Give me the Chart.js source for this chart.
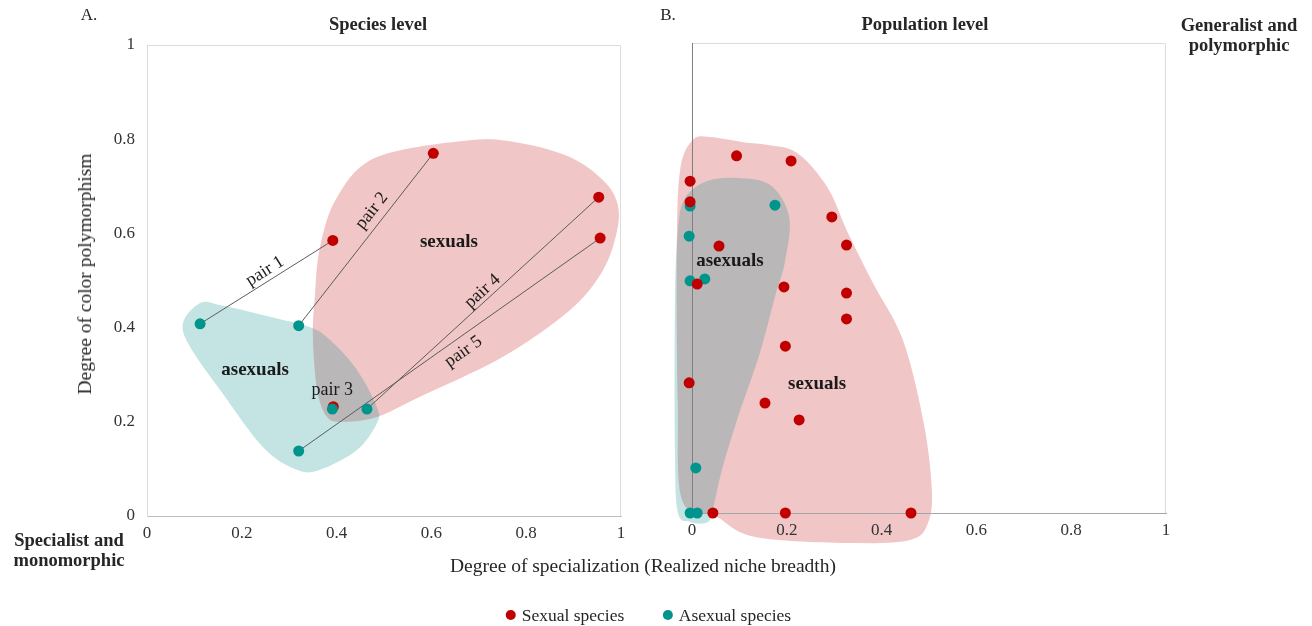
<!DOCTYPE html>
<html>
<head>
<meta charset="utf-8">
<script src="https://cdn.jsdelivr.net/npm/chart.js@4.4.1/dist/chart.umd.min.js"></script>
<style>
body { margin: 0; background: #fff; }
#wrap { position: relative; width: 1312px; height: 626px; overflow: hidden; font-family: "Liberation Serif", serif; color: #262626; }
canvas { position: absolute; top: 0; }
.t { position: absolute; white-space: nowrap; font-size: 17px; line-height: 20px; transform: translate(-50%, -50%); text-align: center; }
.b { font-weight: bold; font-size: 18.5px; }
.ax { font-size: 19.5px; }
.lg { font-size: 17.5px; }
.dot { display: inline-block; width: 10px; height: 10px; border-radius: 50%; margin-right: 6px; vertical-align: 1px; }
</style>
</head>
<body>
<div id="wrap">
  <canvas id="chartA" width="650" height="626" style="left:0"></canvas>
  <canvas id="chartB" width="662" height="626" style="left:650px"></canvas>

  <div class="t" style="left:89px;top:15px">A.</div>
  <div class="t b" style="left:378px;top:24px">Species level</div>
  <div class="t" style="left:668px;top:15px">B.</div>
  <div class="t b" style="left:925px;top:24px">Population level</div>
  <div class="t b" style="left:1239px;top:35px">Generalist and<br>polymorphic</div>
  <div class="t b" style="left:69px;top:550px">Specialist and<br>monomorphic</div>
  <div class="t ax" style="left:643px;top:566px">Degree of specialization (Realized niche breadth)</div>
  <div class="t ax" style="left:85px;top:274px;transform:translate(-50%,-50%) rotate(-90deg)">Degree of color polymorphism</div>
  <div class="t lg" style="left:565px;top:615px"><span class="dot" style="background:#c00000"></span>Sexual species</div>
  <div class="t lg" style="left:727px;top:615px"><span class="dot" style="background:#00958c"></span>Asexual species</div>
</div>

<script>
// Tick labels shared by both panels
const tickValues = [0, 0.2, 0.4, 0.6, 0.8, 1];
const tickLabels = ['0', '0.2', '0.4', '0.6', '0.8', '1'];

// A. Species level - five sexual / asexual pairs
const pairNames = ['pair 1', 'pair 2', 'pair 3', 'pair 4', 'pair 5'];
const speciesSexualX = [0.392, 0.604, 0.393, 0.953, 0.956];
const speciesSexualY = [0.585, 0.770, 0.232, 0.677, 0.590];
const speciesAsexualX = [0.112, 0.320, 0.391, 0.464, 0.320];
const speciesAsexualY = [0.408, 0.404, 0.227, 0.227, 0.138];

// outlines of the shaded groups (species level)
const speciesSexualHullX = [0.681, 0.787, 0.892, 0.962, 0.992, 0.992, 0.962, 0.892, 0.751, 0.576, 0.485, 0.414, 0.380, 0.359, 0.350, 0.354, 0.365, 0.401, 0.485];
const speciesSexualHullY = [0.798, 0.792, 0.762, 0.713, 0.665, 0.607, 0.522, 0.437, 0.338, 0.253, 0.210, 0.200, 0.210, 0.268, 0.380, 0.465, 0.571, 0.677, 0.762];
const speciesAsexualHullX = [0.112, 0.076, 0.091, 0.154, 0.245, 0.316, 0.365, 0.443, 0.485, 0.485, 0.443, 0.386, 0.344, 0.259, 0.154];
const speciesAsexualHullY = [0.452, 0.410, 0.359, 0.268, 0.146, 0.098, 0.098, 0.140, 0.197, 0.231, 0.310, 0.374, 0.401, 0.423, 0.448];

// B. Population level
const popSexualX = [0.094, 0.209, -0.004, -0.004, 0.295, 0.326, 0.057, 0.194, 0.011, 0.326, 0.326, 0.197, -0.006, 0.154, 0.226, 0.044, 0.197, 0.462];
const popSexualY = [0.760, 0.749, 0.706, 0.662, 0.630, 0.570, 0.568, 0.481, 0.487, 0.468, 0.413, 0.355, 0.277, 0.234, 0.198, 0, 0, 0];
const popAsexualX = [-0.004, 0.175, -0.006, -0.004, 0.027, 0.008, -0.004, 0.011];
const popAsexualY = [0.653, 0.655, 0.589, 0.494, 0.498, 0.096, 0, 0];

const popSexualHullX = [0.038, 0.108, 0.160, 0.222, 0.285, 0.329, 0.382, 0.445, 0.489, 0.506, 0.498, 0.462, 0.338, 0.133, 0.049, -0.021, -0.030, -0.032, -0.025, 0.002];
const popSexualHullY = [0.800, 0.789, 0.783, 0.766, 0.694, 0.596, 0.489, 0.368, 0.191, 0.049, -0.021, -0.057, -0.064, -0.051, -0.006, 0.028, 0.240, 0.560, 0.730, 0.794];
const popAsexualHullX = [0.093, 0.165, 0.205, 0.196, 0.175, 0.143, 0.095, 0.063, 0.046, 0.034, -0.004, -0.030, -0.036, -0.036, -0.030, -0.017, 0.027];
const popAsexualHullY = [0.713, 0.698, 0.630, 0.534, 0.460, 0.340, 0.198, 0.091, 0.017, -0.019, -0.019, 0.002, 0.134, 0.453, 0.596, 0.666, 0.704];

// group names written inside the shaded areas
const speciesGroupLabels = ['sexuals', 'asexuals'];
const speciesGroupX = [0.637, 0.228];
const speciesGroupY = [0.582, 0.310];
const popGroupLabels = ['asexuals', 'sexuals'];
const popGroupX = [0.080, 0.264];
const popGroupY = [0.536, 0.274];

const RED = '#c00000';
const TEAL = '#00958c';
const PINK_FILL = '#f0c6c6';
const TEAL_FILL = '#c4e4e3';
const GREY_FILL = '#b9b7b7';
const FONT = '"Liberation Serif", serif';

// where each pair label sits along its line (fraction, pixel offset)
const pairLabelAt = [0.53, 0.62, 0, 0.525, 0.52];
const pairLabelOffset = [10, 13, 19, 9, -14];

function zipXY(xs, ys) {
    return xs.map(function (x, i) { return { x: x, y: ys[i] }; });
}

// closed smooth curve through the outline points (Catmull-Rom)
function smoothPath(pts) {
    const path = new Path2D();
    const n = pts.length;
    path.moveTo(pts[0].x, pts[0].y);
    for (let i = 0; i < n; i++) {
        const p0 = pts[(i - 1 + n) % n], p1 = pts[i], p2 = pts[(i + 1) % n], p3 = pts[(i + 2) % n];
        path.bezierCurveTo(
            p1.x + (p2.x - p0.x) / 6, p1.y + (p2.y - p0.y) / 6,
            p2.x - (p3.x - p1.x) / 6, p2.y - (p3.y - p1.y) / 6,
            p2.x, p2.y);
    }
    path.closePath();
    return path;
}

function toPixels(chart, xs, ys) {
    return xs.map(function (x, i) {
        return { x: chart.scales.x.getPixelForValue(x), y: chart.scales.y.getPixelForValue(ys[i]) };
    });
}

// shaded sexual / asexual areas, the overlap in grey, plus the plot frame
function hullPlugin(sexHull, asexHull) {
    return {
        id: 'hulls',
        beforeDraw: function (chart) {
            const ctx = chart.ctx, a = chart.chartArea;
            ctx.save();
            ctx.strokeStyle = '#dcdcdc';
            ctx.lineWidth = 1;
            ctx.beginPath();
            ctx.moveTo(a.left, a.top + 0.5);
            ctx.lineTo(a.right - 0.5, a.top + 0.5);
            ctx.lineTo(a.right - 0.5, a.bottom);
            ctx.stroke();

            const sexPath = smoothPath(toPixels(chart, sexHull[0], sexHull[1]));
            const asexPath = smoothPath(toPixels(chart, asexHull[0], asexHull[1]));
            ctx.fillStyle = TEAL_FILL;
            ctx.fill(asexPath);
            ctx.fillStyle = PINK_FILL;
            ctx.fill(sexPath);
            ctx.clip(sexPath);
            ctx.fillStyle = GREY_FILL;
            ctx.fill(asexPath);
            ctx.restore();
        }
    };
}

// bold group names and (for panel A) the pair labels
function labelPlugin(names, xs, ys, withPairs) {
    return {
        id: 'labels',
        afterDatasetsDraw: function (chart) {
            const ctx = chart.ctx;
            const sx = chart.scales.x, sy = chart.scales.y;
            ctx.save();
            ctx.fillStyle = '#1a1a1a';
            ctx.textAlign = 'center';
            ctx.textBaseline = 'middle';
            ctx.font = 'bold 19px ' + FONT;
            names.forEach(function (name, i) {
                ctx.fillText(name, sx.getPixelForValue(xs[i]), sy.getPixelForValue(ys[i]));
            });
            if (withPairs) {
                ctx.font = '18px ' + FONT;
                pairNames.forEach(function (name, i) {
                    const x1 = sx.getPixelForValue(speciesAsexualX[i]), y1 = sy.getPixelForValue(speciesAsexualY[i]);
                    const x2 = sx.getPixelForValue(speciesSexualX[i]), y2 = sy.getPixelForValue(speciesSexualY[i]);
                    const dx = x2 - x1, dy = y2 - y1, len = Math.hypot(dx, dy);
                    ctx.save();
                    if (len < 6) {
                        ctx.translate(x1, y1 - pairLabelOffset[i]);
                    } else {
                        const t = pairLabelAt[i], off = pairLabelOffset[i];
                        ctx.translate(x1 + dx * t + dy / len * off, y1 + dy * t - dx / len * off);
                        ctx.rotate(Math.atan2(dy, dx));
                    }
                    ctx.fillText(name, 0, 0);
                    ctx.restore();
                });
            }
            ctx.restore();
        }
    };
}

function axisOptions(showY, yBorder, xBorder) {
    return {
        x: {
            type: 'linear', min: 0, max: 1,
            afterBuildTicks: function (s) { s.ticks = tickValues.map(function (v) { return { value: v }; }); },
            ticks: {
                padding: 7, color: '#333', font: { family: FONT, size: 17 },
                callback: function (v) { return tickLabels[tickValues.indexOf(v)]; }
            },
            grid: { display: false, drawTicks: false },
            border: { display: true, color: xBorder, width: 1 }
        },
        y: {
            type: 'linear', min: 0, max: 1,
            afterBuildTicks: function (s) { s.ticks = tickValues.map(function (v) { return { value: v }; }); },
            ticks: {
                display: showY, padding: 12, color: '#333', font: { family: FONT, size: 17 },
                callback: function (v) { return tickLabels[tickValues.indexOf(v)]; }
            },
            grid: { display: false, drawTicks: false },
            border: { display: true, color: yBorder, width: 1 }
        }
    };
}

function pointSet(label, xs, ys, color, order) {
    return {
        label: label, data: zipXY(xs, ys), order: order, clip: false,
        pointRadius: 5.5, pointHoverRadius: 5.5, pointBorderWidth: 0,
        pointBackgroundColor: color, backgroundColor: color, showLine: false
    };
}

// move the plot area onto the target box
function pinArea(chart, box) {
    for (let k = 0; k < 2; k++) {
        const a = chart.chartArea, p = chart.options.layout.padding;
        p.left += box.left - a.left;
        p.top += box.top - a.top;
        p.right += a.right - box.right;
        p.bottom += a.bottom - box.bottom;
        chart.update('none');
    }
}

function baseOptions(scales) {
    return {
        responsive: false, animation: false, events: [],
        layout: { padding: { left: 100, top: 40, right: 20, bottom: 80 } },
        plugins: { legend: { display: false }, tooltip: { enabled: false } },
        scales: scales
    };
}

// Panel A
const pairLines = pairNames.map(function (name, i) {
    return {
        label: name, order: 5, clip: false, showLine: true, pointRadius: 0,
        borderColor: '#5c5c5c', borderWidth: 1,
        data: [{ x: speciesAsexualX[i], y: speciesAsexualY[i] }, { x: speciesSexualX[i], y: speciesSexualY[i] }]
    };
});

const chartA = new Chart(document.getElementById('chartA'), {
    type: 'scatter',
    data: {
        datasets: [
            pointSet('Asexual species', speciesAsexualX, speciesAsexualY, TEAL, 0),
            pointSet('Sexual species', speciesSexualX, speciesSexualY, RED, 1)
        ].concat(pairLines)
    },
    options: baseOptions(axisOptions(true, '#d9d9d9', '#bfbfbf')),
    plugins: [
        hullPlugin([speciesSexualHullX, speciesSexualHullY], [speciesAsexualHullX, speciesAsexualHullY]),
        labelPlugin(speciesGroupLabels, speciesGroupX, speciesGroupY, true)
    ]
});
pinArea(chartA, { left: 147, top: 45, right: 621, bottom: 516 });

// Panel B
const chartB = new Chart(document.getElementById('chartB'), {
    type: 'scatter',
    data: {
        datasets: [
            pointSet('Sexual species', popSexualX, popSexualY, RED, 0),
            pointSet('Asexual species', popAsexualX, popAsexualY, TEAL, 1)
        ]
    },
    options: baseOptions(axisOptions(false, '#7f7f7f', '#a6a6a6')),
    plugins: [
        hullPlugin([popSexualHullX, popSexualHullY], [popAsexualHullX, popAsexualHullY]),
        labelPlugin(popGroupLabels, popGroupX, popGroupY, false)
    ]
});
pinArea(chartB, { left: 42, top: 43, right: 516, bottom: 513 });
</script>
</body>
</html>
